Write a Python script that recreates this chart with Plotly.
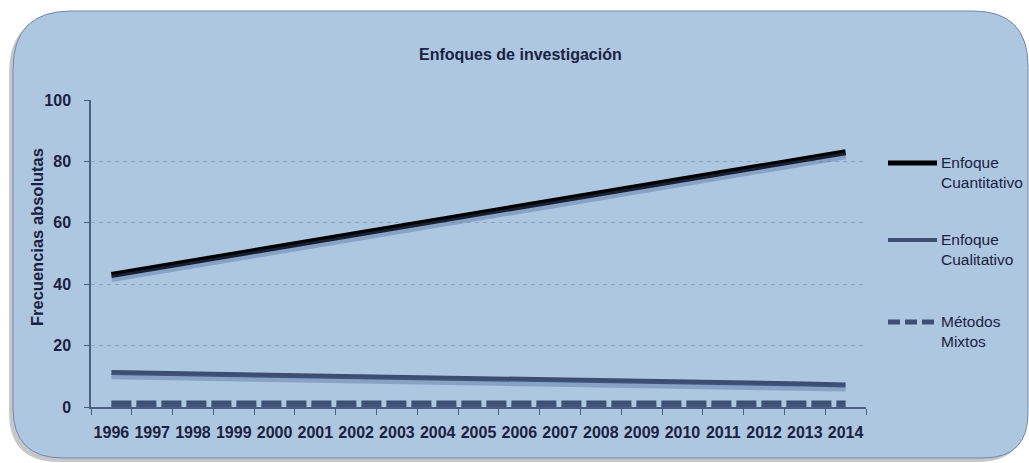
import plotly.graph_objects as go

# ---------------- data ----------------
years = [str(y) for y in range(1996, 2015)]
cuantitativo = [43.0, 45.2, 47.4, 49.7, 51.9, 54.1, 56.3, 58.6, 60.8, 63.0,
                65.2, 67.4, 69.7, 71.9, 74.1, 76.3, 78.6, 80.8, 83.0]
cualitativo = [11.2, 11.0, 10.8, 10.5, 10.3, 10.1, 9.9, 9.7, 9.4, 9.2,
               9.0, 8.8, 8.6, 8.3, 8.1, 7.9, 7.7, 7.5, 7.2]
mixtos = [1, 1, 1, 1, 1, 1, 1, 1, 1, 1, 1, 1, 1, 1, 1, 1, 1, 1, 1]
y_ticks = [0, 20, 40, 60, 80, 100]

title_text = "Enfoques de investigación"
y_title = "Frecuencias absolutas"
names = ["Enfoque<br>Cuantitativo", "Enfoque<br>Cualitativo", "Métodos<br>Mixtos"]

# ---------------- layout geometry ----------------
W, H = 1029, 463
L, R, T, B = 91, 866, 100, 407  # plot area in pixels


def px(x):
    return (x - L) / (R - L)


def py(y):
    return (B - y) / (B - T)


FONT = "Liberation Sans, Arial, sans-serif"
TXT = "#1b2140"
AX = "#4d6082"
COL_CUANT = "#000000"
COL_CUAL = "#3b4e70"
COL_MIX = "#3d5072"
SHADOW = "rgba(70,95,150,0.35)"


def rounded_box(x0, y0, x1, y1, rtl, rtr, rbr, rbl):
    pts = [
        f"M {px(x0 + rtl)},{py(y0)}",
        f"L {px(x1 - rtr)},{py(y0)}",
        f"Q {px(x1)},{py(y0)} {px(x1)},{py(y0 + rtr)}",
        f"L {px(x1)},{py(y1 - rbr)}",
        f"Q {px(x1)},{py(y1)} {px(x1 - rbr)},{py(y1)}",
        f"L {px(x0 + rbl)},{py(y1)}",
        f"Q {px(x0)},{py(y1)} {px(x0)},{py(y1 - rbl)}",
        f"L {px(x0)},{py(y0 + rtl)}",
        f"Q {px(x0)},{py(y0)} {px(x0 + rtl)},{py(y0)}",
        "Z",
    ]
    return " ".join(pts)


fig = go.Figure()

# shadows (same data, drawn on a slightly shifted overlay axis)
for vals, w, dash in [(cuantitativo, 7, None), (cualitativo, 6, None), (mixtos, 7, "20px,5px")]:
    fig.add_trace(go.Scatter(
        x=years, y=vals, mode="lines", yaxis="y2", hoverinfo="skip",
        line=dict(color=SHADOW, width=w, dash=dash), showlegend=False,
    ))

fig.add_trace(go.Scatter(x=years, y=cuantitativo, mode="lines", name=names[0],
                         line=dict(color=COL_CUANT, width=6), showlegend=False))
fig.add_trace(go.Scatter(x=years, y=cualitativo, mode="lines", name=names[1],
                         line=dict(color=COL_CUAL, width=5), showlegend=False))
fig.add_trace(go.Scatter(x=years, y=mixtos, mode="lines", name=names[2],
                         line=dict(color=COL_MIX, width=7, dash="20px,5px"), showlegend=False))

shapes = []
# outer shadow of the rounded box
shapes.append(dict(type="path", xref="paper", yref="paper", layer="below",
                   path=rounded_box(9, 15, 1024, 462, 58, 55, 45, 50),
                   fillcolor="rgba(0,0,0,0.22)", line=dict(width=0)))
# the rounded box
shapes.append(dict(type="path", xref="paper", yref="paper", layer="below",
                   path=rounded_box(13, 11, 1028, 458, 58, 55, 45, 50),
                   fillcolor="#adc7e1", line=dict(color="#7186b0", width=1)))

# manual legend samples
leg_x0, leg_x1 = 888, 937
leg_rows = [163, 240, 322]
leg_styles = [(COL_CUANT, 5, "solid"), (COL_CUAL, 4, "solid"), (COL_MIX, 5, "12px,5px")]
for yy, (c, w, d) in zip(leg_rows, leg_styles):
    shapes.append(dict(type="line", xref="paper", yref="paper",
                       x0=px(leg_x0), x1=px(leg_x1), y0=py(yy), y1=py(yy),
                       line=dict(color=c, width=w, dash=d)))

annotations = [
    dict(text=f"<b>{title_text}</b>", x=px(520), y=py(55), xref="paper", yref="paper",
         showarrow=False, xanchor="center", yanchor="middle",
         font=dict(family=FONT, size=16, color=TXT)),
    dict(text=f"<b>{y_title}</b>", x=px(37), y=py(237), xref="paper", yref="paper",
         showarrow=False, textangle=-90, xanchor="center", yanchor="middle",
         font=dict(family=FONT, size=16.5, color=TXT)),
]
for yy, nm in zip(leg_rows, names):
    annotations.append(dict(text=nm, x=px(939), y=py(yy - 11), xref="paper", yref="paper",
                            showarrow=False, xanchor="left", yanchor="top", align="left",
                            font=dict(family=FONT, size=15.5, color=TXT)))

fig.update_layout(
    width=W, height=H,
    margin=dict(l=L, r=W - R, t=T, b=H - B, pad=0),
    paper_bgcolor="white",
    plot_bgcolor="rgba(0,0,0,0)",
    shapes=shapes,
    annotations=annotations,
    showlegend=False,
    xaxis=dict(
        type="category", range=[-0.5, 18.5], tickson="boundaries",
        ticks="outside", ticklen=6, tickcolor=AX, tickwidth=1,
        showline=True, linecolor=AX, linewidth=1.5,
        showgrid=False, zeroline=False, tickangle=0,
        tickfont=dict(family=FONT, size=16, color=TXT, weight="bold"),
        ticklabelstandoff=10,
    ),
    yaxis=dict(
        range=[0, 100], tickvals=y_ticks,
        ticks="outside", ticklen=5, tickcolor=AX, tickwidth=1,
        showline=True, linecolor=AX, linewidth=1.5,
        showgrid=True, gridcolor="#8ea4bf", griddash="4px,4px", gridwidth=1,
        zeroline=False,
        tickfont=dict(family=FONT, size=16, color=TXT, weight="bold"),
        ticklabelstandoff=10,
    ),
    yaxis2=dict(range=[1.2, 101.2], overlaying="y", visible=False),
)

fig.write_html("out.html")
